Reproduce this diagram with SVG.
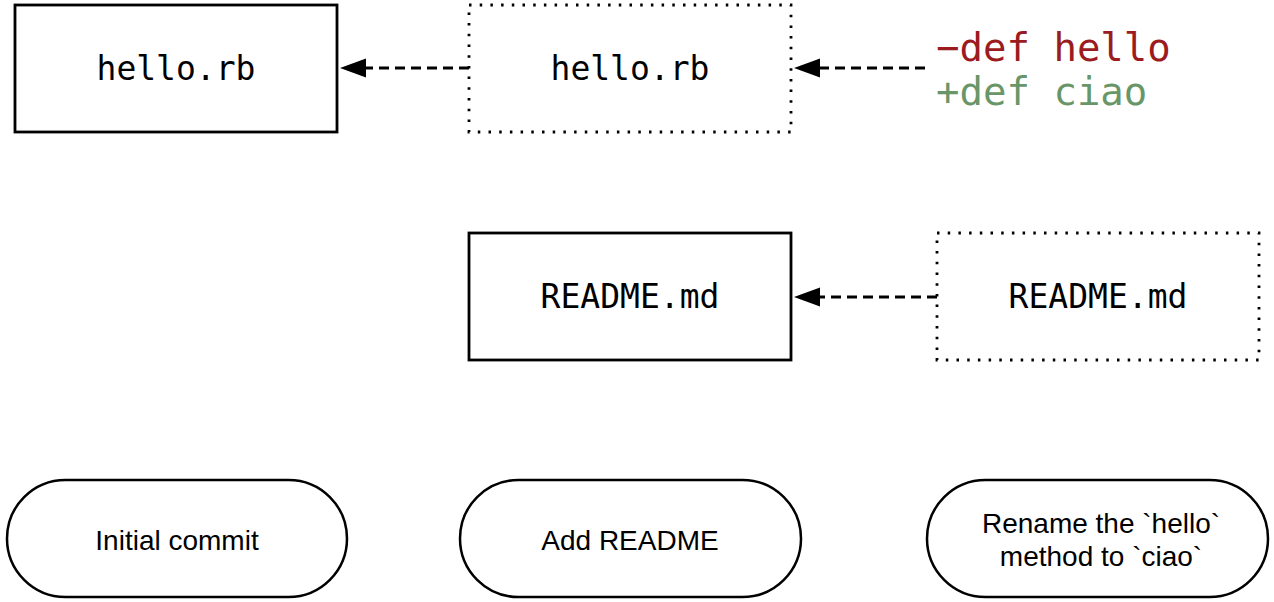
<svg xmlns="http://www.w3.org/2000/svg" width="1274" height="602" viewBox="0 0 1274 602">
<style>
.box{fill:#fff;stroke:#000;stroke-width:2.8}
.dot{fill:#fff;stroke:#000;stroke-width:2.8;stroke-dasharray:2.5 8.2}
.mono{font-family:"DejaVu Sans Mono",monospace;font-size:33px;fill:#000;text-anchor:middle}
.diff{font-family:"DejaVu Sans Mono",monospace;font-size:39px}
.pill{fill:#fff;stroke:#000;stroke-width:2.5}
.lbl{font-family:"Liberation Sans",Arial,sans-serif;font-size:28px;fill:#000;text-anchor:middle}
.conn{fill:none;stroke:#000;stroke-width:2.8;stroke-dasharray:10 6}
</style>
<g id="connectors">
<path class="conn" d="M469,68 L366,68"/>
<path d="M366,58.5 L340,68 L366,77.5 Z" fill="#000"/>
<path class="conn" d="M925,68 L820,68"/>
<path d="M820,58.5 L794,68 L820,77.5 Z" fill="#000"/>
<path class="conn" d="M937,297 L820,297"/>
<path d="M820,287.5 L794,297 L820,306.5 Z" fill="#000"/>
</g>
<g id="hello1">
<rect class="box" x="15" y="5" width="322" height="127"/>
<text class="mono" x="176" y="80">hello.rb</text>
</g>
<g id="hello2">
<rect class="dot" x="469" y="5" width="322" height="127"/>
<text class="mono" x="630" y="80">hello.rb</text>
</g>
<g id="diff">
<text class="diff" x="936" y="61" fill="#9b1b1f">−def hello</text>
<text class="diff" x="936" y="105" fill="#699669">+def ciao</text>
</g>
<g id="readme1">
<rect class="box" x="469" y="233" width="322" height="127"/>
<text class="mono" x="630" y="308">README.md</text>
</g>
<g id="readme2">
<rect class="dot" x="937" y="233" width="322" height="127"/>
<text class="mono" x="1098" y="308">README.md</text>
</g>
<g id="commit1">
<rect class="pill" x="7" y="480" width="340" height="117" rx="58.5" ry="58.5"/>
<text class="lbl" x="177" y="550">Initial commit</text>
</g>
<g id="commit2">
<rect class="pill" x="460" y="480" width="341" height="117" rx="58.5" ry="58.5"/>
<text class="lbl" x="630" y="550">Add README</text>
</g>
<g id="commit3">
<rect class="pill" x="927" y="480" width="341" height="117" rx="58.5" ry="58.5"/>
<text class="lbl" x="1101" y="533">Rename the `hello`</text>
<text class="lbl" x="1101" y="566">method to `ciao`</text>
</g>
</svg>
